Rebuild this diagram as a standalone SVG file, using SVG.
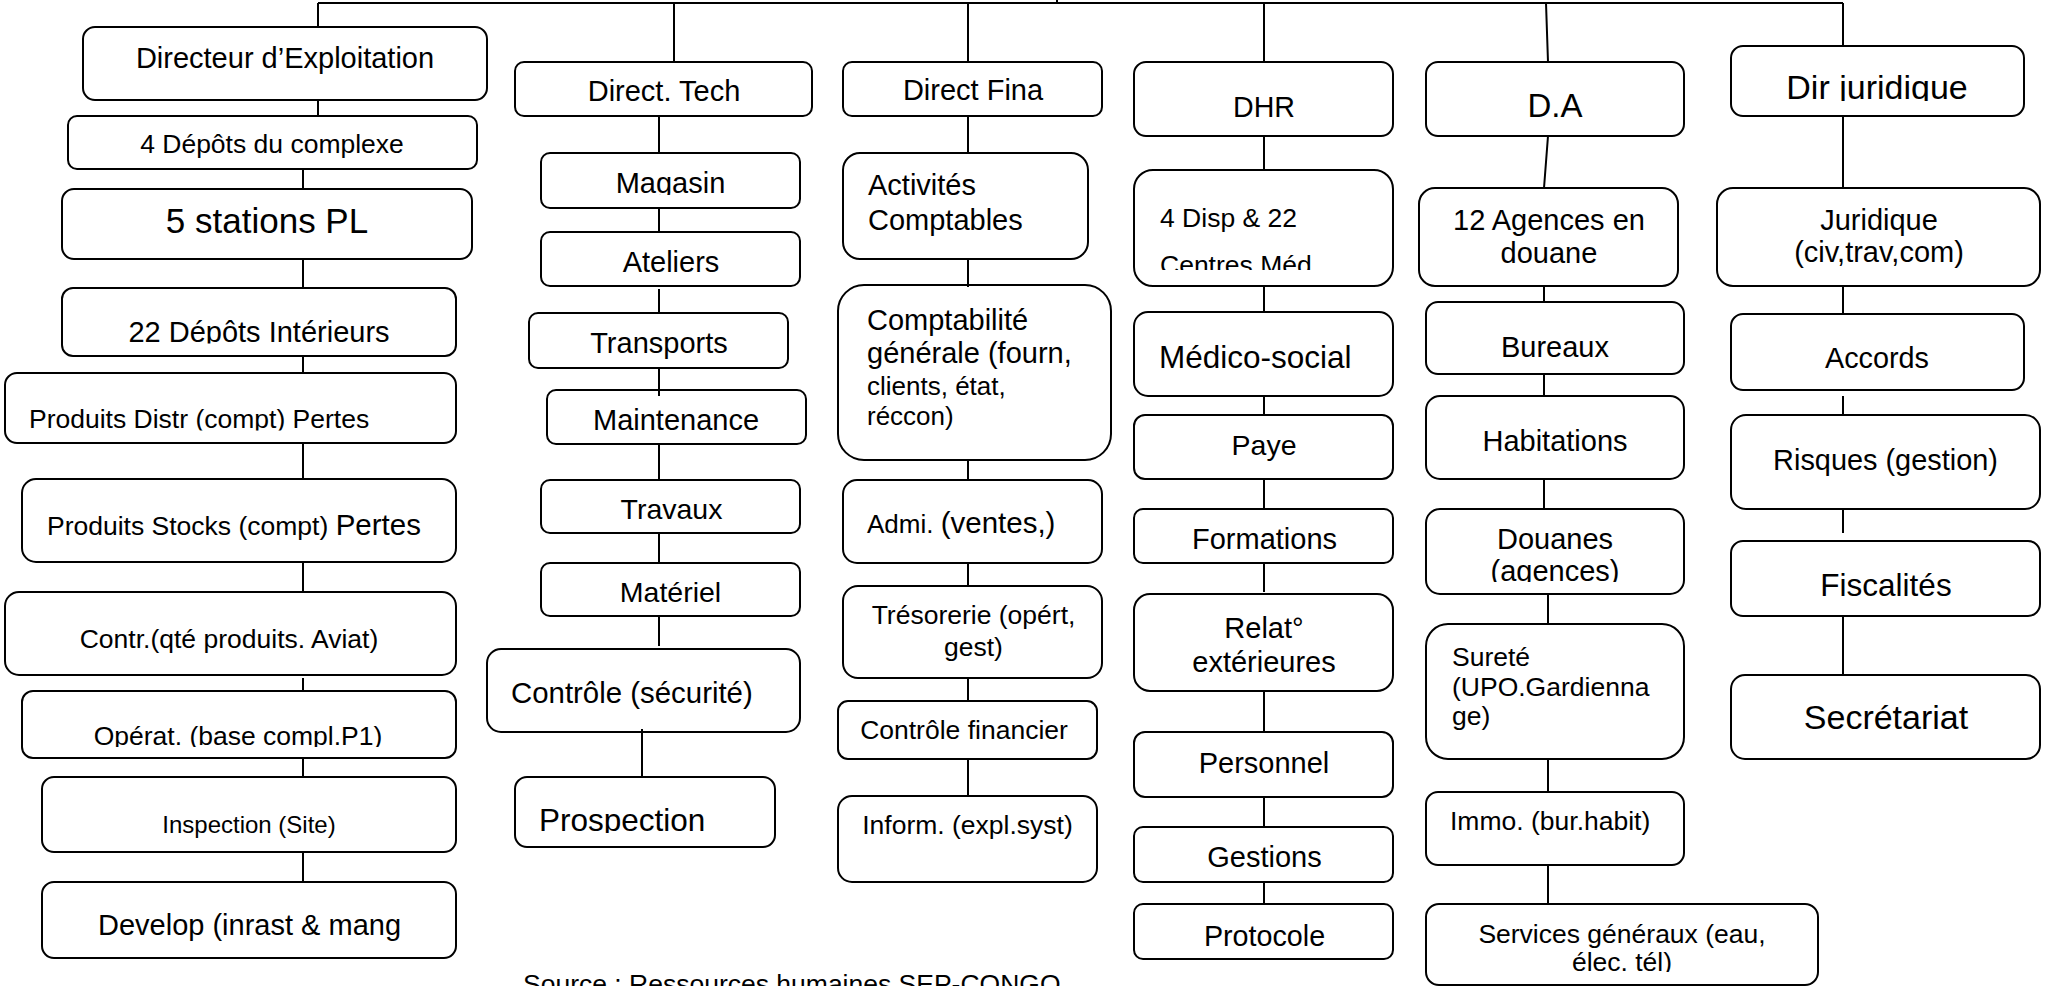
<svg xmlns="http://www.w3.org/2000/svg" width="2045" height="986" viewBox="0 0 2045 986">
<style>
.b{fill:#fff;stroke:#000;stroke-width:2}
.l{fill:none;stroke:#000;stroke-width:2}
text{font-family:"Liberation Sans",Arial,sans-serif;fill:#000}
.m{text-anchor:middle}
</style>
<defs>
<clipPath id="k22"><rect x="62" y="288" width="394" height="55.5"/></clipPath>
<clipPath id="kPD"><rect x="5" y="373" width="451" height="57.5"/></clipPath>
<clipPath id="kOp"><rect x="22" y="691" width="434" height="56"/></clipPath>
<clipPath id="kMag"><rect x="541" y="153" width="259" height="42"/></clipPath>
<clipPath id="kPro"><rect x="515" y="777" width="260" height="56"/></clipPath>
<clipPath id="kDisp"><rect x="1134" y="170" width="259" height="100"/></clipPath>
<clipPath id="kDir"><rect x="1731" y="46" width="293" height="55"/></clipPath>
<clipPath id="kDou"><rect x="1426" y="509" width="258" height="73"/></clipPath>
<clipPath id="kSvc"><rect x="1426" y="904" width="392" height="68"/></clipPath>
</defs>
<rect width="2045" height="986" fill="#fff"/>

<g id="col-exploitation">
<g id="n-directeur"><rect class="b" x="83" y="27" width="404" height="73" rx="12"/><text class="m" x="285" y="68" font-size="29">Directeur d’Exploitation</text></g>
<g id="n-4depots"><rect class="b" x="68" y="116" width="409" height="53" rx="9"/><text class="m" x="272" y="153" font-size="26.5">4 Dépôts du complexe</text></g>
<g id="n-5stations"><rect class="b" x="62" y="189" width="410" height="70" rx="12"/><text class="m" x="267" y="233" font-size="35">5 stations PL</text></g>
<g id="n-22depots"><rect class="b" x="62" y="288" width="394" height="68" rx="11"/><text class="m" x="259" y="342" font-size="29" clip-path="url(#k22)">22 Dépôts Intérieurs</text></g>
<g id="n-prodistr"><rect class="b" x="5" y="373" width="451" height="70" rx="12"/><text x="29" y="428" font-size="26.5" clip-path="url(#kPD)">Produits Distr (compt) Pertes</text></g>
<g id="n-prostocks"><rect class="b" x="22" y="479" width="434" height="83" rx="14"/><text x="47" y="535"><tspan font-size="26.5">Produits Stocks (compt) </tspan><tspan font-size="29.5">Pertes</tspan></text></g>
<g id="n-contr"><rect class="b" x="5" y="592" width="451" height="83" rx="14"/><text class="m" x="229" y="648" font-size="26.5">Contr.(qté produits. Aviat)</text></g>
<g id="n-operat"><rect class="b" x="22" y="691" width="434" height="67" rx="11"/><text class="m" x="238" y="745" font-size="26.5" clip-path="url(#kOp)">Opérat. (base compl.P1)</text></g>
<g id="n-inspection"><rect class="b" x="42" y="777" width="414" height="75" rx="12"/><text class="m" x="249" y="833" font-size="24">Inspection (Site)</text></g>
<g id="n-develop"><rect class="b" x="42" y="882" width="414" height="76" rx="12"/><text class="m" x="249.5" y="935" font-size="29">Develop (inrast &amp; mang</text></g>
</g>

<g id="col-tech">
<g id="n-directtech"><rect class="b" x="515" y="62" width="297" height="54" rx="9"/><text class="m" x="664" y="101" font-size="29">Direct. Tech</text></g>
<g id="n-magasin"><rect class="b" x="541" y="153" width="259" height="55" rx="9"/><text class="m" x="670.5" y="193" font-size="29" clip-path="url(#kMag)">Magasin</text></g>
<g id="n-ateliers"><rect class="b" x="541" y="232" width="259" height="54" rx="9"/><text class="m" x="671" y="272" font-size="29">Ateliers</text></g>
<g id="n-transports"><rect class="b" x="529" y="313" width="259" height="55" rx="9"/><text class="m" x="659" y="353" font-size="29">Transports</text></g>
<g id="n-maintenance"><rect class="b" x="547" y="390" width="259" height="54" rx="9"/><text class="m" x="676" y="430" font-size="29">Maintenance</text></g>
<g id="n-travaux"><rect class="b" x="541" y="480" width="259" height="53" rx="9"/><text class="m" x="671.5" y="519" font-size="28.5">Travaux</text></g>
<g id="n-materiel"><rect class="b" x="541" y="563" width="259" height="53" rx="9"/><text class="m" x="670.5" y="602" font-size="28.5">Matériel</text></g>
<g id="n-controle"><rect class="b" x="487" y="649" width="313" height="83" rx="14"/><text x="511" y="703" font-size="29.4">Contrôle (sécurité)</text></g>
<g id="n-prospection"><rect class="b" x="515" y="777" width="260" height="70" rx="12"/><text x="539" y="831" font-size="31.5" clip-path="url(#kPro)">Prospection</text></g>
</g>

<g id="col-fina">
<g id="n-directfina"><rect class="b" x="843" y="62" width="259" height="54" rx="9"/><text class="m" x="973" y="100" font-size="29">Direct Fina</text></g>
<g id="n-activites"><rect class="b" x="843" y="153" width="245" height="106" rx="17"/><text x="868" y="195" font-size="29">Activités</text><text x="868" y="230" font-size="29">Comptables</text></g>
<g id="n-comptabilite"><rect class="b" x="838" y="285" width="273" height="175" rx="26"/><text x="867" y="330" font-size="29">Comptabilité</text><text x="867" y="363" font-size="29">générale (fourn,</text><text x="867" y="395" font-size="26">clients, état,</text><text x="867" y="425" font-size="26">réccon)</text></g>
<g id="n-admi"><rect class="b" x="843" y="480" width="259" height="83" rx="14"/><text x="867" y="533"><tspan font-size="26">Admi. </tspan><tspan font-size="29.5">(ventes,)</tspan></text></g>
<g id="n-tresorerie"><rect class="b" x="843" y="586" width="259" height="92" rx="15"/><text class="m" x="973.5" y="624" font-size="26.5">Trésorerie (opért,</text><text class="m" x="973.5" y="656" font-size="26.5">gest)</text></g>
<g id="n-controlefin"><rect class="b" x="838" y="701" width="259" height="58" rx="10"/><text class="m" x="964" y="739" font-size="26.5">Contrôle financier</text></g>
<g id="n-inform"><rect class="b" x="838" y="796" width="259" height="86" rx="14"/><text class="m" x="967.5" y="834" font-size="26.5">Inform. (expl.syst)</text></g>
</g>

<g id="col-dhr">
<g id="n-dhr"><rect class="b" x="1134" y="62" width="259" height="74" rx="12"/><text class="m" x="1264" y="117" font-size="28.6">DHR</text></g>
<g id="n-4disp"><rect class="b" x="1134" y="170" width="259" height="116" rx="19"/><g clip-path="url(#kDisp)"><text x="1160" y="227" font-size="26.5">4 Disp &amp; 22</text><text x="1160" y="274" font-size="26.5">Centres Méd</text></g></g>
<g id="n-medico"><rect class="b" x="1134" y="312" width="259" height="84" rx="14"/><text x="1159" y="368" font-size="31.5">Médico-social</text></g>
<g id="n-paye"><rect class="b" x="1134" y="415" width="259" height="64" rx="11"/><text class="m" x="1264" y="455" font-size="28.5">Paye</text></g>
<g id="n-formations"><rect class="b" x="1134" y="509" width="259" height="54" rx="9"/><text class="m" x="1264.5" y="549" font-size="29">Formations</text></g>
<g id="n-relat"><rect class="b" x="1134" y="594" width="259" height="97" rx="16"/><text class="m" x="1264" y="638" font-size="29">Relat°</text><text class="m" x="1264" y="672" font-size="29">extérieures</text></g>
<g id="n-personnel"><rect class="b" x="1134" y="732" width="259" height="65" rx="11"/><text class="m" x="1264" y="773" font-size="29">Personnel</text></g>
<g id="n-gestions"><rect class="b" x="1134" y="827" width="259" height="55" rx="9"/><text class="m" x="1264.5" y="867" font-size="29">Gestions</text></g>
<g id="n-protocole"><rect class="b" x="1134" y="904" width="259" height="55" rx="9"/><text class="m" x="1264.5" y="946" font-size="28.7">Protocole</text></g>
</g>

<g id="col-da">
<g id="n-da"><rect class="b" x="1426" y="62" width="258" height="74" rx="12"/><text class="m" x="1555" y="117" font-size="33">D.A</text></g>
<g id="n-agences"><rect class="b" x="1419" y="188" width="259" height="98" rx="16"/><text class="m" x="1549" y="230" font-size="29">12 Agences en</text><text class="m" x="1549" y="263" font-size="29">douane</text></g>
<g id="n-bureaux"><rect class="b" x="1426" y="302" width="258" height="72" rx="12"/><text class="m" x="1555" y="357" font-size="29">Bureaux</text></g>
<g id="n-habitations"><rect class="b" x="1426" y="396" width="258" height="83" rx="14"/><text class="m" x="1555" y="451" font-size="29">Habitations</text></g>
<g id="n-douanes"><rect class="b" x="1426" y="509" width="258" height="85" rx="14"/><g clip-path="url(#kDou)"><text class="m" x="1555" y="549" font-size="29">Douanes</text><text class="m" x="1555" y="581" font-size="29">(agences)</text></g></g>
<g id="n-surete"><rect class="b" x="1426" y="624" width="258" height="135" rx="22"/><text x="1452" y="666" font-size="26.5">Sureté</text><text x="1452" y="696" font-size="26.5">(UPO.Gardienna</text><text x="1452" y="725" font-size="26.5">ge)</text></g>
<g id="n-immo"><rect class="b" x="1426" y="792" width="258" height="73" rx="12"/><text x="1450" y="830" font-size="26.5">Immo. (bur.habit)</text></g>
<g id="n-services"><rect class="b" x="1426" y="904" width="392" height="81" rx="13"/><g clip-path="url(#kSvc)"><text class="m" x="1622" y="943" font-size="26.5">Services généraux (eau,</text><text class="m" x="1622" y="971" font-size="26.5">élec. tél)</text></g></g>
</g>

<g id="col-juridique">
<g id="n-dirjur"><rect class="b" x="1731" y="46" width="293" height="70" rx="12"/><text class="m" x="1877" y="99" font-size="34" clip-path="url(#kDir)">Dir juridique</text></g>
<g id="n-juridique"><rect class="b" x="1717" y="188" width="323" height="98" rx="16"/><text class="m" x="1879" y="230" font-size="29">Juridique</text><text class="m" x="1879" y="262" font-size="29">(civ,trav,com)</text></g>
<g id="n-accords"><rect class="b" x="1731" y="314" width="293" height="76" rx="12"/><text class="m" x="1877" y="368" font-size="28.8">Accords</text></g>
<g id="n-risques"><rect class="b" x="1731" y="415" width="309" height="94" rx="15"/><text class="m" x="1885.5" y="470" font-size="28.9">Risques (gestion)</text></g>
<g id="n-fiscalites"><rect class="b" x="1731" y="541" width="309" height="75" rx="12"/><text class="m" x="1886" y="596" font-size="31.5">Fiscalités</text></g>
<g id="n-secretariat"><rect class="b" x="1731" y="675" width="309" height="84" rx="14"/><text class="m" x="1886" y="729" font-size="34">Secrétariat</text></g>
</g>

<g id="connectors" class="l">
<path class="l" d="M318,3 H1843 M1057,0 V3"/>
<path class="l" d="M318,3 V27 M318,100 V116 M303,169 V189 M303,259 V288 M303,356 V373 M303,443 V479 M303,562 V592 M303,678 V691 M303,758 V777 M303,852 V882"/>
<path class="l" d="M674,3 V62 M659,116 V153 M659,208 V232 M659,289 V313 M659,368 V396 M659,444 V480 M659,533 V563 M659,616 V646 M642,729 V777"/>
<path class="l" d="M968,3 V62 M968,116 V153 M968,259 V287 M968,460 V480 M968,563 V586 M968,678 V701 M968,759 V796"/>
<path class="l" d="M1264,3 V62 M1264,136 V170 M1264,286 V312 M1264,396 V415 M1264,479 V509 M1264,563 V592 M1264,691 V732 M1264,797 V827 M1264,882 V904"/>
<path class="l" d="M1546,3 L1548,62 M1548,136 L1544,188 M1544,286 V302 M1544,374 V396 M1544,479 V509 M1548,594 V624 M1548,759 V792 M1548,865 V904"/>
<path class="l" d="M1843,3 V46 M1843,116 V188 M1843,286 V314 M1843,396 V415 M1843,509 V533 M1843,616 V675"/>
</g>

<text id="source" x="523" y="993" font-size="26.5">Source : Ressources humaines SEP-CONGO</text>
</svg>
